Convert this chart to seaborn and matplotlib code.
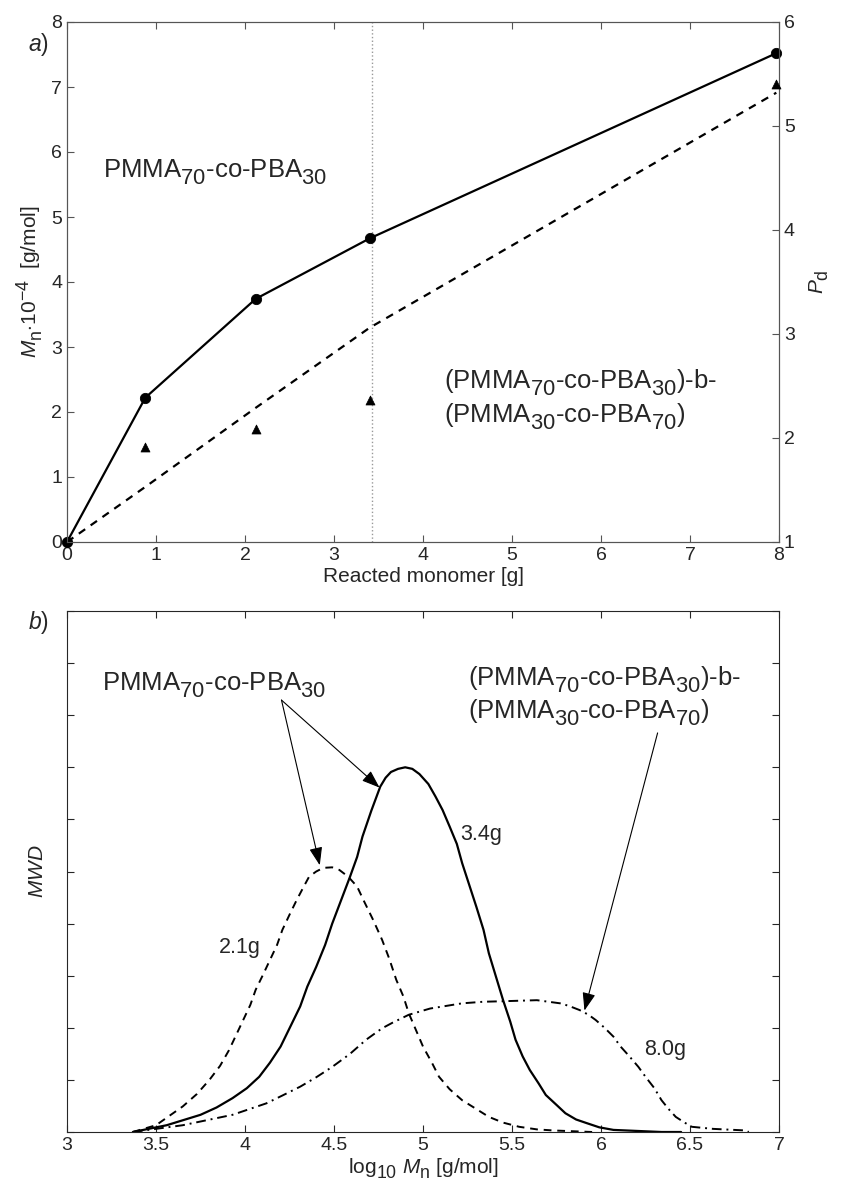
import matplotlib
matplotlib.use('Agg')
import matplotlib.pyplot as plt
import matplotlib._mathtext as mathtext_core
import seaborn as sns

# dados
monomer = [0, 0.88, 2.12, 3.40, 7.97]           # g de monomero reagido
mn_vals = [0, 2.22, 3.74, 4.67, 7.52]           # Mn * 1e-4
pd_line = [1.0, 1.53, 2.29, 3.06, 5.32]         # curva tracejada (Pd)
pd_x = [0.88, 2.12, 3.40, 7.97]
pd_vals = [1.91, 2.09, 2.37, 5.40]              # triangulos (Pd medido)
cut_x = 3.43                                    # linha pontilhada vertical

# MWD - 2.1 g (tracejada)
mwd21_x = [3.37, 3.50, 3.65, 3.73, 3.80, 3.86, 3.91, 3.95, 3.99, 4.03, 4.06, 4.10, 4.14,
           4.18, 4.21, 4.25, 4.29, 4.33, 4.36, 4.40, 4.44, 4.49, 4.53, 4.58, 4.63, 4.67,
           4.72, 4.77, 4.81, 4.85, 4.89, 4.92, 4.96, 5.00, 5.05, 5.09, 5.15, 5.22, 5.30,
           5.37, 5.45, 5.54, 5.64, 5.73, 5.95]
mwd21_y = [0.0, 0.13, 0.49, 0.73, 1.00, 1.27, 1.57, 1.86, 2.15, 2.44, 2.73, 3.01, 3.30,
           3.59, 3.88, 4.17, 4.45, 4.71, 4.90, 5.00, 5.07, 5.08, 5.03, 4.90, 4.71, 4.42,
           4.07, 3.69, 3.33, 2.92, 2.60, 2.28, 1.96, 1.64, 1.33, 1.06, 0.82, 0.61, 0.44,
           0.29, 0.18, 0.10, 0.05, 0.03, 0.0]
# MWD - 3.4 g (continua)
mwd34_x = [3.37, 3.56, 3.75, 3.84, 3.93, 4.01, 4.08, 4.14, 4.20, 4.25, 4.31, 4.35, 4.40,
           4.45, 4.49, 4.54, 4.59, 4.63, 4.66, 4.71, 4.76, 4.79, 4.82, 4.86, 4.90, 4.94,
           4.98, 5.03, 5.07, 5.11, 5.15, 5.19, 5.22, 5.26, 5.30, 5.34, 5.37, 5.41, 5.45,
           5.49, 5.52, 5.56, 5.60, 5.65, 5.69, 5.75, 5.80, 5.86, 5.92, 5.99, 6.07, 6.34,
           6.45]
mwd34_y = [0.0, 0.13, 0.33, 0.47, 0.65, 0.84, 1.06, 1.33, 1.64, 1.99, 2.41, 2.79, 3.17,
           3.59, 4.00, 4.45, 4.90, 5.28, 5.67, 6.17, 6.63, 6.80, 6.91, 6.97, 7.00, 6.97,
           6.87, 6.68, 6.44, 6.18, 5.86, 5.53, 5.16, 4.74, 4.32, 3.88, 3.43, 2.98, 2.53,
           2.12, 1.77, 1.45, 1.19, 0.93, 0.71, 0.52, 0.36, 0.24, 0.17, 0.09, 0.04, 0.0,
           0.0]
# MWD - 8.0 g (traco-ponto)
mwd80_x = [3.37, 3.65, 3.93, 4.12, 4.21, 4.31, 4.40, 4.49, 4.59, 4.68, 4.77, 4.83, 4.92,
           5.04, 5.13, 5.22, 5.34, 5.45, 5.64, 5.77, 5.82, 5.88, 5.93, 5.97, 6.02, 6.07,
           6.11, 6.16, 6.21, 6.25, 6.30, 6.34, 6.38, 6.42, 6.47, 6.51, 6.63, 6.81, 6.83]
mwd80_y = [0.0, 0.13, 0.33, 0.55, 0.70, 0.87, 1.05, 1.25, 1.50, 1.77, 1.99, 2.10, 2.25,
           2.37, 2.42, 2.47, 2.50, 2.51, 2.53, 2.47, 2.42, 2.34, 2.25, 2.15, 2.00, 1.83,
           1.64, 1.45, 1.25, 1.06, 0.84, 0.61, 0.44, 0.29, 0.18, 0.10, 0.06, 0.03, 0.0]

x_ticks_a = list(range(0, 9))
x_ticks_b = [3, 3.5, 4, 4.5, 5, 5.5, 6, 6.5, 7]
x_labels_b = ['3', '3.5', '4', '4.5', '5', '5.5', '6', '6.5', '7']

sns.set_style('ticks')
plt.rcParams['font.family'] = ['Liberation Sans', 'DejaVu Sans']
plt.rcParams['mathtext.fontset'] = 'custom'
plt.rcParams['mathtext.rm'] = 'Liberation Sans'
plt.rcParams['mathtext.it'] = 'Liberation Sans:italic'
plt.rcParams['mathtext.bf'] = 'Liberation Sans:bold'
plt.rcParams['xtick.direction'] = 'in'
plt.rcParams['ytick.direction'] = 'in'
mathtext_core.SHRINK_FACTOR = 0.85        # indices maiores, como no original
mathtext_core.FontConstantsBase.sub1 = 0.5  # indices mais abaixo da linha de base

fig = plt.figure(figsize=(8.47, 11.85), dpi=100)
W, H = 847, 1185
ax1 = fig.add_axes([67 / W, 1 - 542 / H, 712 / W, 520 / H])
ax2 = fig.add_axes([67 / W, 1 - 1132 / H, 712 / W, 521 / H])

grey = '#555555'
big = 18.5

# ---------- painel a ----------
ax1.axvline(cut_x, color='#999999', ls=':', lw=1)
sns.lineplot(x=monomer, y=mn_vals, ax=ax1, color='k', lw=1.6, sort=False, estimator=None)
sns.scatterplot(x=monomer, y=mn_vals, ax=ax1, color='k', marker='o', s=55,
                edgecolor='k', clip_on=False, zorder=5)
ax1.set_xlim(0, 8)
ax1.set_ylim(0, 8)
ax1.set_xticks(x_ticks_a)
ax1.set_yticks(range(0, 9))
ax1.tick_params(labelsize=14, length=5, top=True, color=grey)
ax1.set_xlabel('Reacted monomer [g]', fontsize=15, labelpad=2)
ax1.set_ylabel(r'$\mathit{M}_{\mathrm{n}}$$\cdot$10$^{-4}$  [g/mol]', fontsize=15, labelpad=4)
for s in ax1.spines.values():
    s.set_color(grey)

ax1b = ax1.twinx()
sns.lineplot(x=monomer, y=pd_line, ax=ax1b, color='k', lw=1.6, linestyle=(0, (3.5, 3)),
             sort=False, estimator=None)
sns.scatterplot(x=pd_x, y=pd_vals, ax=ax1b, color='k', marker='^', s=42,
                edgecolor='k', clip_on=False, zorder=5)
ax1b.set_ylim(1, 6)
ax1b.set_yticks(range(1, 7))
ax1b.tick_params(labelsize=14, length=5, color=grey)
ax1b.set_ylabel(r'$\mathit{P}_{\mathrm{d}}$', fontsize=15, labelpad=9)
for s in ax1b.spines.values():
    s.set_color(grey)

ax1.text(0.40, 5.62, r'PMMA$_{70}$-co-PBA$_{30}$', fontsize=big, va='baseline')
ax1.text(4.24, 2.37, r'(PMMA$_{70}$-co-PBA$_{30}$)-b-', fontsize=big, va='baseline')
ax1.text(4.24, 1.85, r'(PMMA$_{30}$-co-PBA$_{70}$)', fontsize=big, va='baseline')

# ---------- painel b ----------
sns.lineplot(x=mwd21_x, y=mwd21_y, ax=ax2, color='k', lw=1.4, linestyle=(0, (4, 3)),
             sort=False, estimator=None)
sns.lineplot(x=mwd34_x, y=mwd34_y, ax=ax2, color='k', lw=1.6, sort=False, estimator=None)
sns.lineplot(x=mwd80_x, y=mwd80_y, ax=ax2, color='k', lw=1.4,
             linestyle=(0, (5, 2.5, 1, 2.5)), sort=False, estimator=None)
ax2.set_xlim(3, 7)
ax2.set_ylim(0, 10)
ax2.set_xticks(x_ticks_b)
ax2.set_xticklabels(x_labels_b)
ax2.set_yticks(range(0, 11))
ax2.set_yticklabels([])
ax2.tick_params(labelsize=14, length=5, top=True, right=True)
ax2.set_xlabel(r'log$_{10}$ $\mathit{M}_{\mathrm{n}}$ [g/mol]', fontsize=15, labelpad=2)
ax2.set_ylabel(r'$\mathit{MWD}$', fontsize=15, labelpad=11)

ax2.text(3.195, 8.48, r'PMMA$_{70}$-co-PBA$_{30}$', fontsize=big, va='baseline')
ax2.text(5.25, 8.58, r'(PMMA$_{70}$-co-PBA$_{30}$)-b-', fontsize=big, va='baseline')
ax2.text(5.25, 7.94, r'(PMMA$_{30}$-co-PBA$_{70}$)', fontsize=big, va='baseline')
ax2.text(5.21, 5.60, '3.4g', fontsize=15.5, va='baseline')
ax2.text(3.855, 3.43, '2.1g', fontsize=15.5, va='baseline')
ax2.text(6.24, 1.48, '8.0g', fontsize=15.5, va='baseline')

arrow = dict(arrowstyle='-|>,head_length=0.55,head_width=0.2', color='k', lw=0.8,
             mutation_scale=20, shrinkA=0, shrinkB=0)
ax2.annotate('', xy=(4.756, 6.61), xytext=(4.205, 8.29), arrowprops=arrow)
ax2.annotate('', xy=(4.42, 5.12), xytext=(4.205, 8.29), arrowprops=arrow)
ax2.annotate('', xy=(5.907, 2.33), xytext=(6.318, 7.66), arrowprops=arrow)

fig.text(28 / W, 1 - 45 / H, r'$\mathit{a}$)', fontsize=16.5, va='center')
fig.text(28 / W, 1 - 623 / H, r'$\mathit{b}$)', fontsize=16.5, va='center')

fig.savefig('out.png', dpi=100)
